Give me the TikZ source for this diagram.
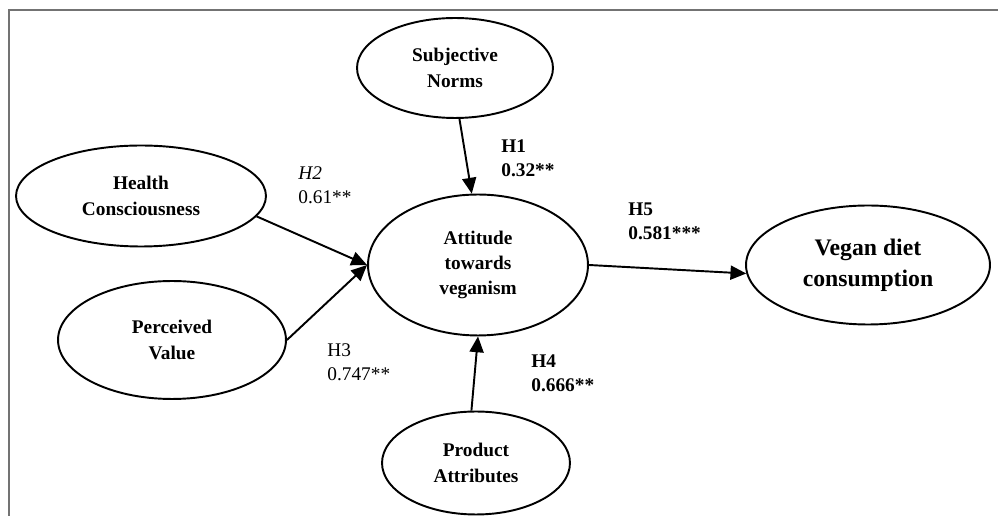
\documentclass[tikz,border=0pt]{standalone}
\usepackage{fontspec}
\setmainfont{Liberation Serif}
\usetikzlibrary{positioning,arrows.meta,shapes.geometric}

\begin{document}
\begin{tikzpicture}[x=0.02cm, y=-0.02cm,
    construct/.style={ellipse, draw, line width=1.1pt, inner sep=0pt, align=center, font=\fontsize{11}{15}\selectfont\bfseries},
    effect/.style={-{Triangle[length=9pt,width=8pt]}, line width=1.1pt},
    coef/.style={anchor=west, align=left, inner sep=0pt, font=\fontsize{11}{13.6}\selectfont},
    coefb/.style={coef, font=\fontsize{11}{13.6}\selectfont\bfseries}
]
\useasboundingbox (0,0) rectangle (998,516);
\draw[line width=0.8pt, black!55] (9,516) -- (9,10) -- (998,10);

\node[construct, minimum width=3.92cm, minimum height=2cm] (sn) at (455,68) {Subjective\\Norms};
\node[construct, minimum width=5cm, minimum height=2.02cm] (hc) at (141,196) {Health\\Consciousness};
\node[construct, minimum width=4.56cm, minimum height=2.36cm] (pv) at (172,340) {Perceived\\Value};
\node[construct, minimum width=4.4cm, minimum height=2.82cm, font=\fontsize{11}{14}\selectfont\bfseries] (att) at (478,265) {Attitude\\towards\\veganism};
\node[construct, minimum width=4.88cm, minimum height=2.38cm, font=\fontsize{13.5}{17.5}\selectfont\bfseries] (vd) at (868,265) {Vegan diet\\consumption};
\node[construct, minimum width=3.76cm, minimum height=2.06cm] (pa) at (476,463) {Product\\Attributes};

\draw[effect] (sn.-85) -- (att.95);
\draw[effect] (hc.-10) -- (att.west);
\draw[effect] (pv.east) -- (att.west);
\draw[effect] (pa.95) -- (att.south);
\draw[effect] (att.east) -- (vd.184);

\node[coefb] (h1) at (501,158) {H1\\0.32**};
\node[coef] (h2) at (298,185) {\textit{H2}\\0.61**};
\node[coef] (h3) at (327,362) {H3\\0.747**};
\node[coefb] (h4) at (531,373) {H4\\0.666**};
\node[coefb] (h5) at (628,221) {H5\\0.581***};
\end{tikzpicture}
\end{document}
